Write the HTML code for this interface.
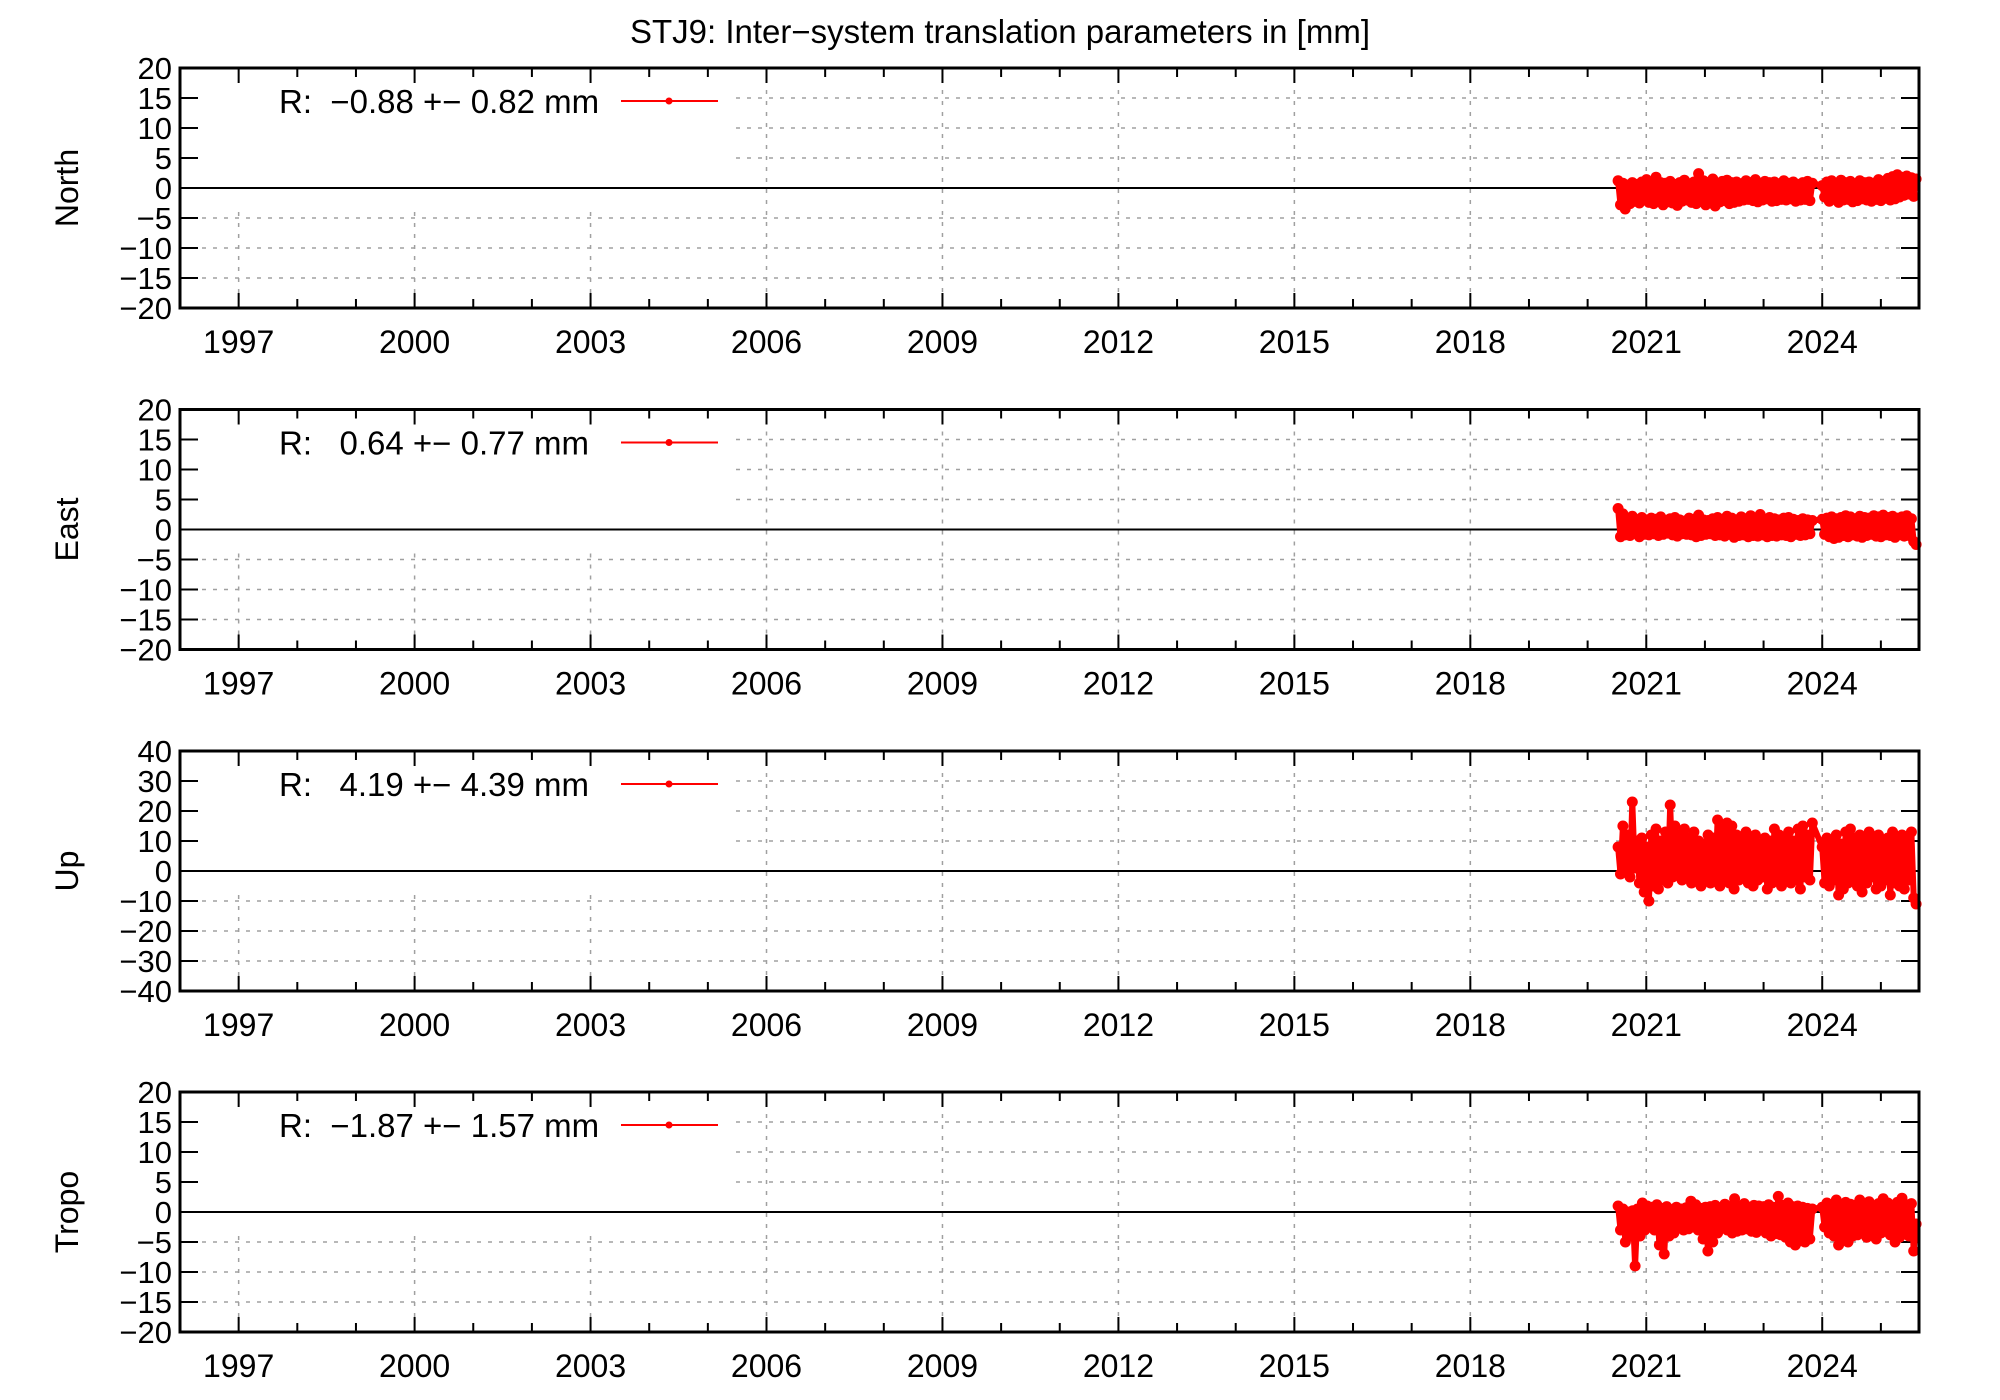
<!DOCTYPE html>
<html><head><meta charset="utf-8"><style>
html,body{margin:0;padding:0;background:#fff;}
svg{display:block;font-family:"Liberation Sans",sans-serif;}
</style></head><body>
<svg id="chart" width="2000" height="1400" viewBox="0 0 2000 1400" xmlns="http://www.w3.org/2000/svg">
<text x="1000" y="43" text-anchor="middle" font-size="33">STJ9: Inter−system translation parameters in [mm]</text>
</svg>
<script>
const panelNames = ["North","East","Up","Tropo"];
const legendTexts = ["R:  −0.88 +− 0.82 mm","R:   0.64 +− 0.77 mm","R:   4.19 +− 4.39 mm","R:  −1.87 +− 1.57 mm"];
const yMaxes = [20,20,40,20];
const yStepVals = [5,5,10,5];
const xTickYears = [1997,2000,2003,2006,2009,2012,2015,2018,2021,2024];
const segStarts = [2020.52, 2024.0];
const segEnds = [2023.83, 2025.6];
const northSeg1 = [1.2,-2.8,0.8,-3.5,0.5,-2.6,0.9,-2.2,0.6,-2.5,1.0,-2.0,1.4,-2.4,0.7,-2.6,1.8,-2.1,0.9,-2.8,0.8,-2.3,1.1,-2.5,0.6,-2.9,0.9,-2.2,1.3,-2.0,0.7,-2.4,1.0,-2.6,2.4,-2.2,1.2,-2.8,0.9,-2.5,1.5,-3.0,0.8,-2.3,1.1,-2.1,1.3,-2.6,0.9,-2.4,1.0,-2.2,0.7,-2.0,1.2,-1.9,0.9,-2.1,1.4,-2.3,0.8,-2.0,1.1,-1.8,0.9,-2.2,1.0,-2.1,0.7,-1.9,1.2,-2.0,0.8,-1.8,1.0,-2.2,0.6,-2.0,0.9,-1.9,1.1,-2.1,0.8];
const northSeg2 = [0.4,-1.5,1.0,-2.2,1.2,-1.8,0.8,-2.4,1.3,-2.0,0.9,-1.9,1.1,-2.3,0.7,-2.1,1.2,-1.8,0.9,-2.0,1.0,-2.2,0.8,-1.9,1.4,-2.1,1.1,-1.7,1.6,-2.0,1.9,-1.8,2.2,-1.5,1.8,-1.2,2.0,-1.0,1.7,-1.4,1.5];
const eastSeg1 = [3.5,-1.2,2.6,-0.9,1.8,-1.0,2.2,-0.6,1.5,-1.2,2.0,-0.8,1.6,-0.9,1.9,-0.7,1.7,-1.0,2.1,-0.8,1.5,-0.6,1.8,-0.9,2.0,-1.1,1.6,-0.7,1.4,-0.8,1.9,-0.9,1.7,-1.2,2.4,-1.0,1.6,-0.8,1.5,-0.7,1.8,-1.0,2.0,-0.9,1.7,-1.1,2.2,-0.8,1.9,-1.3,1.6,-1.0,2.1,-0.9,1.8,-1.2,2.3,-1.0,1.9,-1.1,2.5,-0.9,1.7,-1.2,2.0,-1.0,1.8,-1.1,1.6,-0.9,1.9,-1.0,2.0,-1.2,1.7,-0.8,1.5,-1.0,1.8,-0.9,1.6,-0.7,1.5];
const eastSeg2 = [1.7,-0.8,1.9,-1.2,2.1,-1.5,1.8,-1.3,2.0,-1.0,2.3,-1.2,2.1,-0.9,1.8,-1.1,2.2,-1.3,2.0,-1.0,1.9,-0.8,2.3,-1.1,2.1,-1.2,2.4,-0.9,2.0,-1.0,2.2,-1.3,1.9,-0.9,2.1,-1.1,2.3,-1.0,1.8,-2.0,-2.5];
const upSeg1 = [8,-1,15,0,12,-2,23,1,10,-4,11,-7,8,-10,12,-5,14,-6,10,-3,13,-4,22,-2,15,-1,12,-3,14,-2,11,-4,13,-3,10,-5,9,-2,12,-4,11,-3,17,-5,14,-2,16,-4,15,-6,12,-3,11,-2,13,-4,10,-5,12,-3,9,-2,11,-6,10,-4,14,-3,12,-5,11,-2,13,-4,10,-3,14,-6,15,-2,12,-3,16];
const upSeg2 = [8,-4,11,-5,10,-3,12,-8,9,-6,13,-4,14,-3,11,-5,12,-7,10,-4,13,-2,11,-6,12,-5,10,-3,11,-8,13,-4,10,-5,12,-6,11,-3,13,-9,-11];
const tropoSeg1 = [1,-3,0.5,-5,0,-4,0.2,-9,0.5,-4,1.5,-3,1,-2.5,0.8,-3,1.2,-5.5,0.6,-7,0.9,-4,0.4,-3.5,0.8,-2.5,0.5,-3,0.7,-2.8,1.8,-2.5,1.2,-3,0.6,-4.5,0.8,-6.5,0.9,-5,1.1,-3.5,0.7,-2.5,1.3,-3,0.9,-3.5,2.2,-3.2,1.0,-3,1.4,-2.8,0.8,-3.2,1.1,-3.4,1.0,-3.0,0.9,-3.5,1.2,-4,0.8,-3.6,2.6,-3.8,1.1,-4.2,1.5,-5,0.9,-5.5,1.0,-4.8,0.8,-5.0,0.6,-4.5,0.5];
const tropoSeg2 = [0.8,-2.5,1.5,-3.5,1.2,-4,2.0,-5.5,1.0,-4.5,1.6,-5,1.3,-4,1.1,-3.8,2.0,-3.5,1.2,-4.2,1.7,-3.9,1.0,-4.5,1.4,-3.5,2.2,-3.2,1.5,-3.8,1.1,-5,1.6,-4.2,2.3,-3.6,1.2,-4.0,1.4,-6.5,-2];

const series = [[northSeg1,northSeg2],[eastSeg1,eastSeg2],[upSeg1,upSeg2],[tropoSeg1,tropoSeg2]];
const NS="http://www.w3.org/2000/svg";
const svg=document.getElementById('chart');
const L=180,R=1919,X0=1996.0,X1=2025.65;
const tops=[68,409.5,751,1092], H=240;
function xs(t){return L+(t-X0)/(X1-X0)*(R-L);}
function mk(tag,attrs,parent){const e=document.createElementNS(NS,tag);for(const k in attrs)e.setAttribute(k,attrs[k]);(parent||svg).appendChild(e);return e;}

for(let p=0;p<4;p++){
  const top=tops[p],bot=top+H,ym=yMaxes[p];
  const ys=v=>top+(ym-v)/(2*ym)*H;
  const g=mk('g',{});
  
  
  const boxBottom=ys(0)+0.1*H, boxRight=736;
  for(let v=-ym+yStepVals[p];v<ym;v+=yStepVals[p]){
    if(v===0)continue;
    const y=ys(v);
    const x0=(y<boxBottom)?boxRight:L;
    const gl=mk('line',{x1:x0,x2:R,y1:y,y2:y,stroke:'#a0a0a0','stroke-width':1.5,'stroke-dasharray':'4,7'},g);
    
    
  }
  xTickYears.forEach(yr=>{
    const x=xs(yr);
    const y0=(x<boxRight)?boxBottom:top;
    const gl=mk('line',{x1:x,x2:x,y1:y0,y2:bot,stroke:'#a0a0a0','stroke-width':1.5,'stroke-dasharray':'4,7'},g);
    
    
  });
  const zl=mk('line',{x1:L,x2:R,y1:ys(0),y2:ys(0),stroke:'#000','stroke-width':2},g);
  
  
  for(let v=-ym;v<=ym;v+=yStepVals[p]){
    const y=ys(v);
    if(v>-ym&&v<ym){
      mk('line',{x1:L,x2:L+18,y1:y,y2:y,stroke:'#000','stroke-width':2},g);
      mk('line',{x1:R-18,x2:R,y1:y,y2:y,stroke:'#000','stroke-width':2},g);
    }
    const t=mk('text',{x:L-8,y:y+11,'text-anchor':'end','font-size':31},g);
    
    
    t.textContent=(v<0?'−'+(-v):String(v));
  }
  for(let yr=1996;yr<=2025;yr++){
    const x=xs(yr); if(x<=L+1)continue;
    const major=xTickYears.includes(yr), len=major?15:9;
    mk('line',{x1:x,x2:x,y1:bot,y2:bot-len,stroke:'#000','stroke-width':2},g);
    mk('line',{x1:x,x2:x,y1:top,y2:top+len,stroke:'#000','stroke-width':2},g);
  }
  xTickYears.forEach(yr=>{
    const t=mk('text',{x:xs(yr),y:bot+45,'text-anchor':'middle','font-size':32},g);
    
    
    t.textContent=yr;
  });
  const yt=mk('text',{x:0,y:0,'text-anchor':'middle','font-size':32,transform:`translate(78,${top+H/2}) rotate(-90)`},g);
  
  
  yt.textContent=panelNames[p];
  const lt=mk('text',{x:279,y:top+45,'font-size':33},g);
  
  
  lt.setAttribute('xml:space','preserve');
  lt.style.whiteSpace='pre';
  lt.textContent=legendTexts[p];
  const ll=mk('line',{x1:621,x2:718,y1:top+33,y2:top+33,stroke:'#f00','stroke-width':2},g);
  
  
  mk('circle',{cx:669,cy:top+33,r:3.5,fill:'#f00'},g);
  const segs=series[p];
  const pts=[];
  segs.forEach((vals,si)=>{
    const n=vals.length, st=(segEnds[si]-segStarts[si])/(n-1);
    vals.forEach((v,i)=>pts.push([xs(segStarts[si]+i*st),ys(v)]));
  });
  const path=mk('polyline',{points:pts.map(q=>q[0].toFixed(1)+','+q[1].toFixed(1)).join(' '),fill:'none',stroke:'#f00','stroke-width':6,'stroke-linejoin':'round'},g);
  
  
  pts.forEach(q=>{
    const c=mk('circle',{cx:q[0].toFixed(1),cy:q[1].toFixed(1),r:5.5,fill:'#f00'},g);
    
    
  });
  const b=mk('rect',{x:L,y:top,width:R-L,height:H,fill:'none',stroke:'#000','stroke-width':3},g);
  
  
}
</script>
</body></html>
